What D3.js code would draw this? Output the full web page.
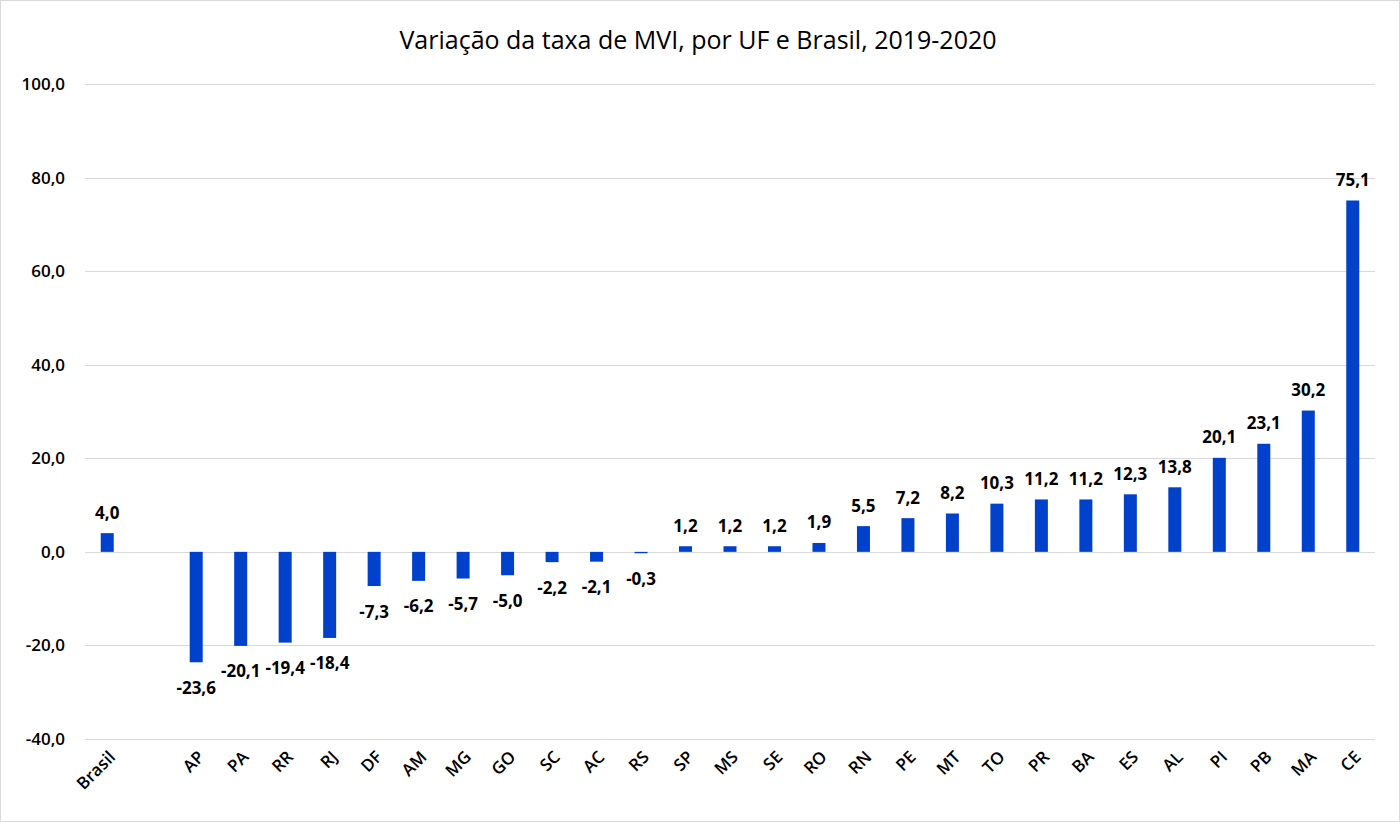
<!DOCTYPE html>
<html>
<head>
<meta charset="utf-8">
<script src="https://cdn.jsdelivr.net/npm/d3@7"></script>
<style>
  body { margin: 0; background: #fff; }
  svg { font-family: "Open Sans", "Noto Sans", sans-serif; }
</style>
</head>
<body>
<svg width="1400" height="822"></svg>
<script>
// categories (blank slot between Brasil and the states)
const categories = ["Brasil", "", "AP", "PA", "RR", "RJ", "DF", "AM", "MG", "GO", "SC", "AC", "RS",
  "SP", "MS", "SE", "RO", "RN", "PE", "MT", "TO", "PR", "BA", "ES", "AL", "PI", "PB", "MA", "CE"];
const values = [4.0, null, -23.6, -20.1, -19.4, -18.4, -7.3, -6.2, -5.7, -5.0, -2.2, -2.1, -0.3,
  1.2, 1.2, 1.2, 1.9, 5.5, 7.2, 8.2, 10.3, 11.2, 11.2, 12.3, 13.8, 20.1, 23.1, 30.2, 75.1];
const yTicks = [-40, -20, 0, 20, 40, 60, 80, 100];
const title = "Variação da taxa de MVI, por UF e Brasil, 2019-2020";

const width = 1400;
const height = 822;
const margin = { top: 84, bottom: 83, left: 85, right: 25 };

const data = categories.map((c, i) => ({ key: i, name: c, value: values[i] }));
// comma decimal, plain hyphen for negatives
const fmt = v => v.toFixed(1).replace(".", ",");

const svg = d3.select("svg");

// outer border
svg.append("rect")
  .attr("x", 0.5).attr("y", 0.5)
  .attr("width", width - 1).attr("height", height - 1)
  .attr("fill", "none").attr("stroke", "#d9d9d9");

svg.append("text")
  .attr("x", 698).attr("y", 49)
  .attr("text-anchor", "middle")
  .attr("font-size", 25)
  .attr("fill", "#000")
  .text(title);

// scales
const xScale = d3.scaleBand()
  .domain(data.map(d => d.key))
  .range([margin.left, width - margin.right]);

const yScale = d3.scaleLinear()
  .domain([-40, 100])
  .range([height - margin.bottom, margin.top]);

// gridlines
svg.append("g")
  .selectAll("line")
  .data(yTicks)
  .enter()
  .append("line")
  .attr("x1", margin.left)
  .attr("x2", width - margin.right)
  .attr("y1", d => Math.round(yScale(d)) + 0.5)
  .attr("y2", d => Math.round(yScale(d)) + 0.5)
  .attr("stroke", "#d9d9d9")
  .attr("stroke-width", 1);

// y axis labels
const yAxis = d3.axisLeft(yScale).tickValues(yTicks).tickFormat(fmt).tickSize(0).tickPadding(20);
const yG = svg.append("g")
  .attr("transform", `translate(${margin.left}, 0)`)
  .call(yAxis);
yG.select(".domain").remove();
yG.selectAll("text")
  .attr("font-size", 17)
  .attr("font-weight", 600)
  .attr("font-family", "\"Open Sans\", sans-serif")
  .attr("fill", "#000");

// x axis labels
const xAxis = d3.axisBottom(xScale).tickFormat(i => categories[i]).tickSize(0);
const xG = svg.append("g")
  .attr("transform", `translate(0, ${height - margin.bottom})`)
  .call(xAxis);
xG.select(".domain").remove();
xG.selectAll("text")
  .attr("font-size", 17)
  .attr("font-weight", 600)
  .attr("font-family", "\"Open Sans\", sans-serif")
  .attr("fill", "#000")
  .attr("text-anchor", "end")
  .attr("dy", 0)
  .attr("transform", "translate(7, 17) rotate(-45)");

// bars
const barWidth = 13;
const bars = data.filter(d => d.value !== null);
svg.append("g")
  .selectAll("rect")
  .data(bars)
  .enter()
  .append("rect")
  .attr("x", d => xScale(d.key) + xScale.bandwidth() / 2 - barWidth / 2)
  .attr("y", d => yScale(Math.max(0, d.value)))
  .attr("width", barWidth)
  .attr("height", d => Math.max(1, Math.abs(yScale(d.value) - yScale(0))))
  .attr("fill", "#0041CC");

// data labels
svg.append("g")
  .selectAll("text")
  .data(bars)
  .enter()
  .append("text")
  .attr("x", d => xScale(d.key) + xScale.bandwidth() / 2)
  .attr("y", d => d.value >= 0 ? yScale(d.value) - 21 : yScale(d.value) + 25)
  .attr("dominant-baseline", "central")
  .attr("text-anchor", "middle")
  .attr("font-size", 17)
  .attr("font-weight", "bold")
  .attr("fill", "#000")
  .text(d => fmt(d.value));
</script>
</body>
</html>
